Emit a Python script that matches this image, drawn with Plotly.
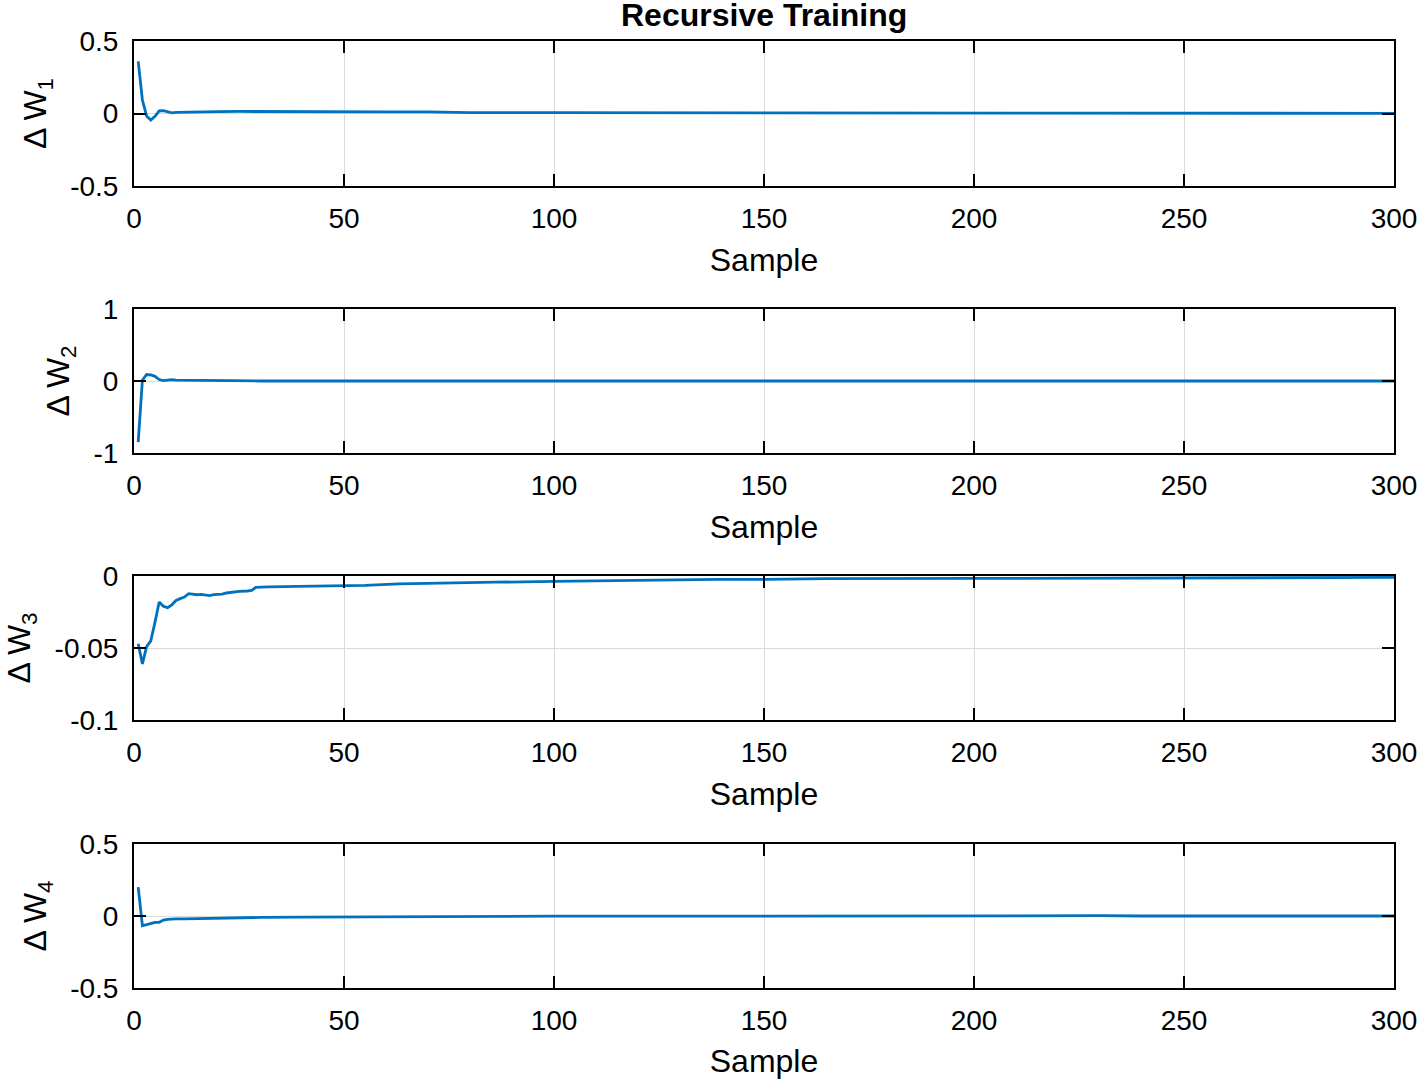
import plotly.graph_objects as go

# ---- data ----
x1 = [1, 2, 3, 4, 5, 6, 7, 8, 9, 10, 12, 15, 20, 25, 30, 40, 50, 60, 70, 75, 80, 100, 120, 150,
      170, 175, 180, 185, 190, 195, 200, 205, 210, 215, 230, 260, 300]
y1 = [0.36, 0.093, -0.017, -0.045, -0.02, 0.018, 0.02, 0.015, 0.005, 0.008, 0.01, 0.012, 0.013,
      0.014, 0.013, 0.012, 0.012, 0.011, 0.011, 0.007, 0.006, 0.006, 0.005, 0.005, 0.004, 0.007,
      0.004, 0.007, 0.004, 0.006, 0.004, 0.006, 0.003, 0.002, 0.002, 0.001, 0.001]

x2 = [1, 2, 3, 4, 5, 6, 7, 8, 9, 10, 12, 15, 18, 20, 25, 30, 300]
y2 = [-0.85, 0.01, 0.09, 0.085, 0.065, 0.02, 0.005, 0.015, 0.02, 0.012, 0.01, 0.006, 0.004,
      0.005, 0.0, 0.0, 0.0]

x3 = [1, 2, 3, 4, 5, 6, 7, 8, 9, 10, 11, 12, 13, 14, 15, 16, 17, 18, 19, 20, 21, 22, 23, 25, 27,
      28, 29, 30, 32, 39, 47, 50, 55, 63, 71, 86, 100, 113, 139, 150, 165, 200, 250, 300]
y3 = [-0.047, -0.061, -0.049, -0.045, -0.032, -0.018, -0.021, -0.022, -0.020, -0.017, -0.0157,
      -0.0146, -0.0123, -0.0127, -0.013, -0.0127, -0.013, -0.0136, -0.013, -0.013, -0.0126,
      -0.0118, -0.0114, -0.0107, -0.0104, -0.010, -0.0079, -0.0077, -0.0075, -0.0072, -0.0067,
      -0.0069, -0.0065, -0.0055, -0.0050, -0.0043, -0.0038, -0.0032, -0.0024, -0.0023, -0.0018,
      -0.0017, -0.0012, -0.0010]

x4 = [1, 2, 3, 4, 5, 6, 7, 8, 9, 10, 12, 15, 20, 30, 40, 50, 60, 80, 90, 100, 150, 195, 200,
      210, 220, 230, 240, 300]
y4 = [0.2, -0.067, -0.06, -0.051, -0.044, -0.044, -0.028, -0.023, -0.019, -0.02, -0.02, -0.018,
      -0.014, -0.01, -0.008, -0.007, -0.006, -0.004, -0.001, -0.001, -0.001, 0.0, 0.004, 0.002,
      0.005, 0.002, 0.0, 0.0]

x_ticks = [0, 50, 100, 150, 200, 250, 300]
y_ranges = [[-0.5, 0.5], [-1, 1], [-0.1, 0], [-0.5, 0.5]]
y_tickvals = [[-0.5, 0, 0.5], [-1, 0, 1], [-0.1, -0.05, 0], [-0.5, 0, 0.5]]
y_ticktext = [["-0.5", "0", "0.5"], ["-1", "0", "1"], ["-0.1", "-0.05", "0"], ["-0.5", "0", "0.5"]]
y_titles = ["Δ W<sub>1</sub>", "Δ W<sub>2</sub>", "Δ W<sub>3</sub>", "Δ W<sub>4</sub>"]
title_text = "Recursive Training"

# ---- figure ----
W, H = 1421, 1079
panel_px = [(41, 186), (309, 453), (576, 720), (844, 988)]
font_family = "Liberation Sans, Arial, Helvetica, sans-serif"
line_color = "#0072BD"

fig = go.Figure()
series = [(x1, y1), (x2, y2), (x3, y3), (x4, y4)]
layout_axes = {}
for i, (xs, ys) in enumerate(series):
    n = i + 1
    xa = "x" if n == 1 else f"x{n}"
    ya = "y" if n == 1 else f"y{n}"
    fig.add_trace(go.Scatter(x=xs, y=ys, mode="lines", xaxis=xa, yaxis=ya,
                             line=dict(color=line_color, width=2.8), showlegend=False,
                             hoverinfo="skip"))
    top, bot = panel_px[i]
    dom = [1 - bot / H, 1 - top / H]
    common = dict(showline=True, linecolor="black", linewidth=2, mirror="ticks",
                  ticks="inside", ticklen=12, tickwidth=2, tickcolor="black",
                  showgrid=True, gridcolor="#dadada", gridwidth=1, zeroline=False,
                  tickfont=dict(family=font_family, size=28, color="black"),
                  automargin=False)
    layout_axes["xaxis" if n == 1 else f"xaxis{n}"] = dict(
        common, domain=[0, 1], range=[0, 300], tickvals=x_ticks,
        ticktext=[str(v) for v in x_ticks], anchor=ya, ticklabelstandoff=6,
        title=dict(text="Sample", font=dict(family=font_family, size=32, color="black"),
                   standoff=16))
    layout_axes["yaxis" if n == 1 else f"yaxis{n}"] = dict(
        common, domain=dom, range=y_ranges[i], tickvals=y_tickvals[i],
        ticktext=y_ticktext[i], anchor=xa, ticklabelstandoff=8,
        title=dict(text=y_titles[i], font=dict(family=font_family, size=32, color="black"),
                   standoff=14))

fig.update_layout(
    width=W, height=H,
    margin=dict(l=134, r=27, t=0, b=0),
    paper_bgcolor="white", plot_bgcolor="white",
    font=dict(family=font_family, color="black"),
    annotations=[dict(text="<b>" + title_text + "</b>", x=0.5, xref="paper",
                      y=1 - 15 / H, yref="paper", yanchor="middle", xanchor="center",
                      showarrow=False, font=dict(family=font_family, size=32, color="black"))],
    **layout_axes,
)

fig.write_html("out.html", config={"displayModeBar": False},
               post_script="document.body.style.margin='0';document.body.style.padding='0';"
                           "document.body.style.overflow='hidden';")
